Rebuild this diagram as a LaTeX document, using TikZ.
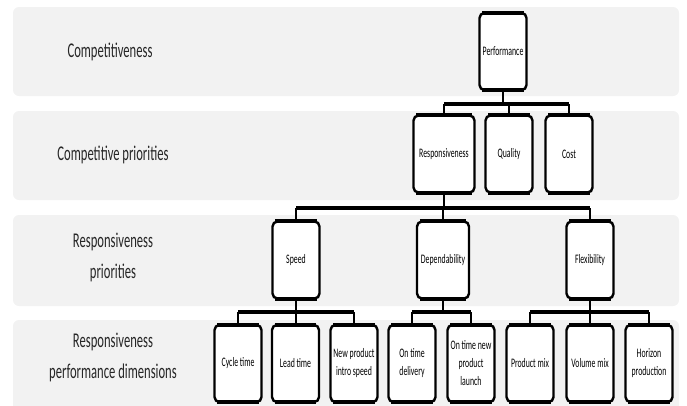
\documentclass[tikz,border=0pt]{standalone}
\usepackage{fontspec}
\setmainfont{Carlito}[FakeStretch=0.6]
\usepackage{tikz}
\usetikzlibrary{calc, positioning}

\begin{document}
\begin{tikzpicture}[x=1pt, y=-1pt,
		band/.style={fill=black!5, rounded corners=6pt},
		side/.style={text=black!85, align=center, font=\fontsize{21}{31}\selectfont},
		box/.style={draw, fill=white, line width=2.4pt, rounded corners=5pt, minimum width=47pt, minimum height=77pt, inner sep=1pt, align=center, font=\fontsize{13}{18}\selectfont},
		stem/.style={line width=2pt},
		bar/.style={line width=3.5pt}]
		\useasboundingbox (0,0) rectangle (687,405);
		\fill[band] (13,7) rectangle (679,96);
		\fill[band] (13,111) rectangle (679,200);
		\fill[band] (13,215) rectangle (679,306);
		\fill[band] (13,320) rectangle (679,420);

		\node[side] (comp) at (110,52) {Competitiveness};
		\node[side] (cprio) at (113,155) {Competitive priorities};
		\node[side] (rprio) at (113,257) {Responsiveness\\priorities};
		\node[side] (rdim) at (113,357) {Responsiveness\\performance dimensions};

		\node[box] (perf) at (503,51.5) {Performance};
		\node[box, minimum width=61pt] (resp) at (444,154) {Responsiveness};
		\node[box] (qual) at (509,154) {Quality};
		\node[box] (cost) at (569,154) {Cost};
		\node[box] (speed) at (296,260) {Speed};
		\node[box, minimum width=52pt] (dep) at (443,260) {Dependability};
		\node[box] (flex) at (590,260) {Flexibility};
		\node[box] (cyc) at (238,363.5) {Cycle time};
		\node[box] (lead) at (295.5,363.5) {Lead time};
		\node[box] (newp) at (354,363.5) {New product\\intro speed};
		\node[box] (ontd) at (412,363.5) {On time\\delivery};
		\node[box] (ontl) at (471,363.5) {On time new\\product\\launch};
		\node[box] (pmix) at (530,363.5) {Product mix};
		\node[box] (vmix) at (590,363.5) {Volume mix};
		\node[box] (hor) at (649,363.5) {Horizon\\production};

		\foreach \n in {perf,resp,qual,cost,speed,dep,flex,cyc,lead,newp,ontd,ontl,pmix,vmix,hor}
			\draw[line width=4pt] ([xshift=4pt,yshift=-1pt]\n.north west) -- ([xshift=-4pt,yshift=-1pt]\n.north east)
				([xshift=4pt,yshift=1pt]\n.south west) -- ([xshift=-4pt,yshift=1pt]\n.south east);

		\coordinate (b1) at (503,104);
		\draw[stem] (perf.south) -- (b1);
		\draw[bar] (b1 -| resp) -- (b1 -| cost);
		\foreach \n in {resp,qual,cost}
			\draw[stem] (b1 -| \n) -- (\n.north);

		\coordinate (b2) at (444,208);
		\draw[stem] (resp.south) -- (b2);
		\draw[bar] (b2 -| speed) -- (b2 -| flex);
		\foreach \n in {speed,dep,flex}
			\draw[stem] (b2 -| \n) -- (\n.north);

		\coordinate (b3) at (296,312);
		\draw[stem] (speed.south) -- (b3);
		\draw[bar] (b3 -| cyc) -- (b3 -| newp);
		\foreach \n in {cyc,lead,newp}
			\draw[stem] (b3 -| \n) -- (\n.north);

		\coordinate (b4) at (443,312);
		\draw[stem] (dep.south) -- (b4);
		\draw[bar] (b4 -| ontd) -- (b4 -| ontl);
		\foreach \n in {ontd,ontl}
			\draw[stem] (b4 -| \n) -- (\n.north);

		\coordinate (b5) at (590,312);
		\draw[stem] (flex.south) -- (b5);
		\draw[bar] (b5 -| pmix) -- (b5 -| hor);
		\foreach \n in {pmix,vmix,hor}
			\draw[stem] (b5 -| \n) -- (\n.north);
	\end{tikzpicture}
\end{document}
